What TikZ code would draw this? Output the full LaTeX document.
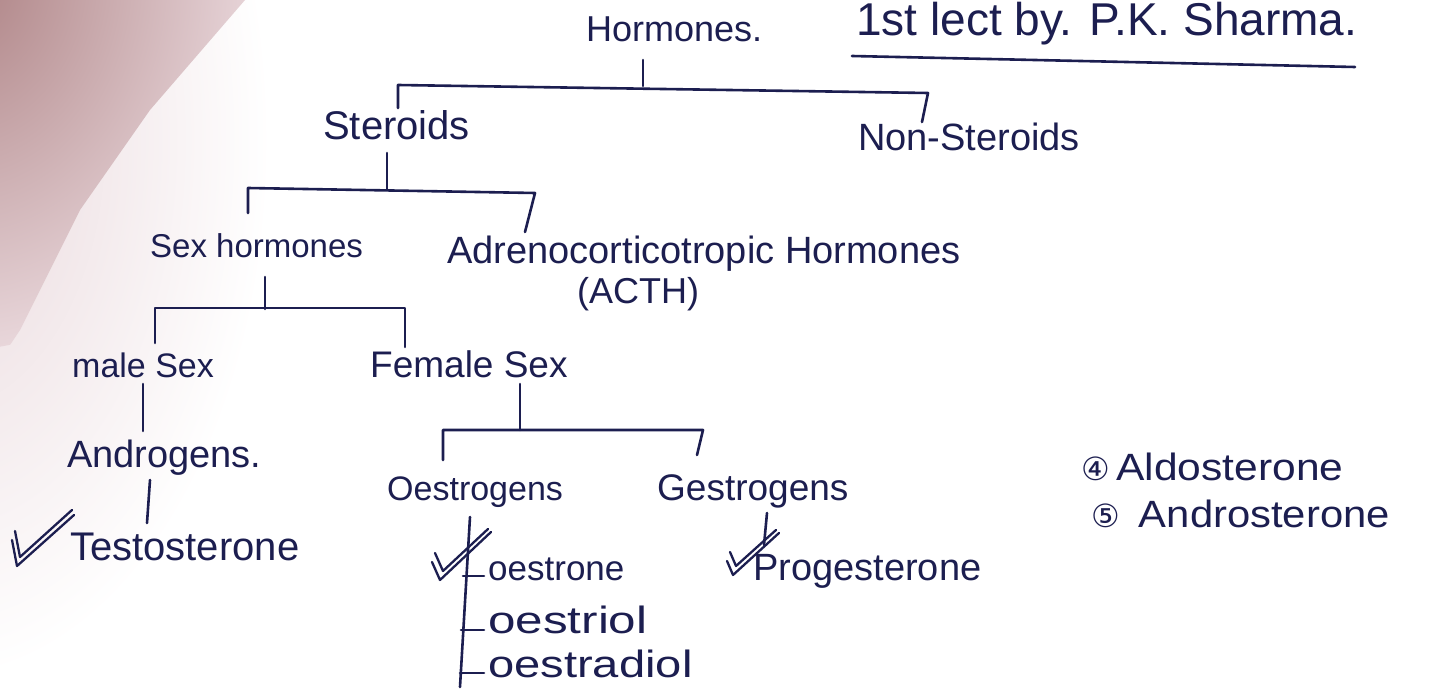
\documentclass[tikz,border=0pt]{standalone}
\usepackage{fontspec}
\setmainfont{Liberation Sans}
\newfontfamily\dejavu{DejaVu Sans}
\definecolor{ink}{RGB}{28,30,80}
\definecolor{shadowA}{RGB}{172,128,130}
\definecolor{shadowB}{RGB}{232,214,218}
\newcommand{\fs}[1]{\fontsize{#1}{#1}\selectfont}
\begin{document}
\begin{tikzpicture}[x=1pt,y=-1pt,
  txt/.style={anchor=base west, inner sep=0pt, text=ink, font=\fs{38}},
  conn/.style={draw=ink, line width=2.6pt, line cap=round, line join=round},
  tick/.style={draw=ink, line width=2.3pt, line cap=round, line join=round}]
\useasboundingbox (0,0) rectangle (1430,698);
\fill[white] (0,0) rectangle (1430,698);
% paper shadow at the top left
\begin{scope}
  \clip (0,0) rectangle (1430,698);
  \shade[inner color=shadowB, outer color=white] (-60,140) ellipse [x radius=330, y radius=540];
  \clip (0,0) -- (245,0) -- (150,110) -- (80,210) -- (20,330) -- (0,360) -- cycle;
  \shade[inner color=shadowA, outer color=shadowB] (-40,-30) ellipse [x radius=300, y radius=380];
\end{scope}

% texts
\node[txt, font=\fs{36}] (hor) at (586,42) {Hormones.};
\node[txt, font=\fs{46}] (title) at (856,36) {1st lect by. P.K. Sharma.};
\node[txt, font=\fs{40}] (ster) at (323,140) {Steroids};
\node[txt] (nonster) at (858,150) {Non-Steroids};
\node[txt, font=\fs{33}] (sexh) at (150,257) {Sex hormones};
\node[txt] (acth) at (447,263) {Adrenocorticotropic Hormones};
\node[txt, font=\fs{36}] (acthab) at (577,303) {(ACTH)};
\node[txt, font=\fs{34}] (male) at (72,377) {male Sex};
\node[txt, font=\fs{37}] (female) at (370,377) {Female Sex};
\node[txt] (andro) at (67,467) {Androgens.};
\node[txt, font=\fs{40}] (testo) at (70,560) {Testosterone};
\node[txt, font=\fs{34}] (oestro) at (387,500) {Oestrogens};
\node[txt, font=\fs{37}] (gestro) at (657,500) {Gestrogens};
\node[txt] (prog) at (753,580) {Progesterone};
\node[txt, font=\fs{35}] (oone) at (488,580) {oestrone};
\node[txt] (oriol) at (488,633) {\scalebox{1.3}[1]{oestriol}};
\node[txt] (odiol) at (488,677) {\scalebox{1.24}[1]{oestradiol}};
\node[txt] (aldo) at (1081,480) {{\dejavu\fs{32}④}\,\scalebox{1.12}[1]{Aldosterone}};
\node[txt] (andst) at (1091,527) {{\dejavu\fs{32}⑤}\enspace\scalebox{1.1}[1]{Androsterone}};

% underline of the title
\coordinate (ul1) at (852,56);
\coordinate (ul2) at (1355,67);
\draw[conn] (ul1) -- (ul2);

% Hormones -> Steroids / Non-Steroids
\coordinate (h0) at (643,60);  \coordinate (h1) at (643,86);
\coordinate (hl) at (398,85);  \coordinate (hr) at (928,93);
\coordinate (hld) at (398,108); \coordinate (hrd) at (922,122);
\draw[conn] (h0) -- (h1);
\draw[conn] (hld) -- (hl) -- (hr) -- (hrd);

% Steroids -> Sex hormones / ACTH
\coordinate (s0) at (387,153); \coordinate (s1) at (387,189);
\coordinate (sl) at (248,188); \coordinate (sr) at (535,193);
\coordinate (sld) at (248,213); \coordinate (srd) at (525,232);
\draw[conn] (s0) -- (s1);
\draw[conn] (sld) -- (sl) -- (sr) -- (srd);

% Sex hormones -> male / female
\coordinate (x0) at (265,277); \coordinate (x1) at (265,309);
\coordinate (xl) at (155,308); \coordinate (xr) at (405,308);
\coordinate (xld) at (155,343); \coordinate (xrd) at (405,347);
\draw[conn] (x0) -- (x1);
\draw[conn] (xld) -- (xl) -- (xr) -- (xrd);

% male -> Androgens -> Testosterone
\coordinate (m0) at (143,384); \coordinate (m1) at (143,431);
\draw[conn] (m0) -- (m1);
\coordinate (a0) at (150,480); \coordinate (a1) at (147,523);
\draw[conn] (a0) -- (a1);

% Female -> Oestrogens / Gestrogens
\coordinate (f0) at (520,384); \coordinate (f1) at (520,430);
\coordinate (fl) at (443,430); \coordinate (fr) at (703,430);
\coordinate (fld) at (443,460); \coordinate (frd) at (697,455);
\draw[conn] (f0) -- (f1);
\draw[conn] (fld) -- (fl) -- (fr) -- (frd);

% Oestrogens -> oestrone, oestriol, oestradiol
\coordinate (o0) at (470,517); \coordinate (o1) at (460,687);
\draw[conn] (o0) -- (o1);
\coordinate (t1a) at (463,576); \coordinate (t1b) at (484,576);
\coordinate (t2a) at (461,630); \coordinate (t2b) at (484,630);
\coordinate (t3a) at (460,673); \coordinate (t3b) at (484,673);
\draw[conn] (t1a) -- (t1b);
\draw[conn] (t2a) -- (t2b);
\draw[conn] (t3a) -- (t3b);

% Gestrogens -> Progesterone
\coordinate (g0) at (767,513); \coordinate (g1) at (764,545);
\draw[conn] (g0) -- (g1);

% double check marks
\draw[tick] (12,540) -- (17,566) -- (74,515);
\draw[tick] (15,531) -- (20,557) -- (72,510);
\draw[tick] (432,562) -- (440,580) -- (491,532);
\draw[tick] (435,553) -- (443,571) -- (488,529);
\draw[tick] (727,561) -- (733,575) -- (779,533);
\draw[tick] (730,552) -- (736,566) -- (776,530);
\end{tikzpicture}
\end{document}
